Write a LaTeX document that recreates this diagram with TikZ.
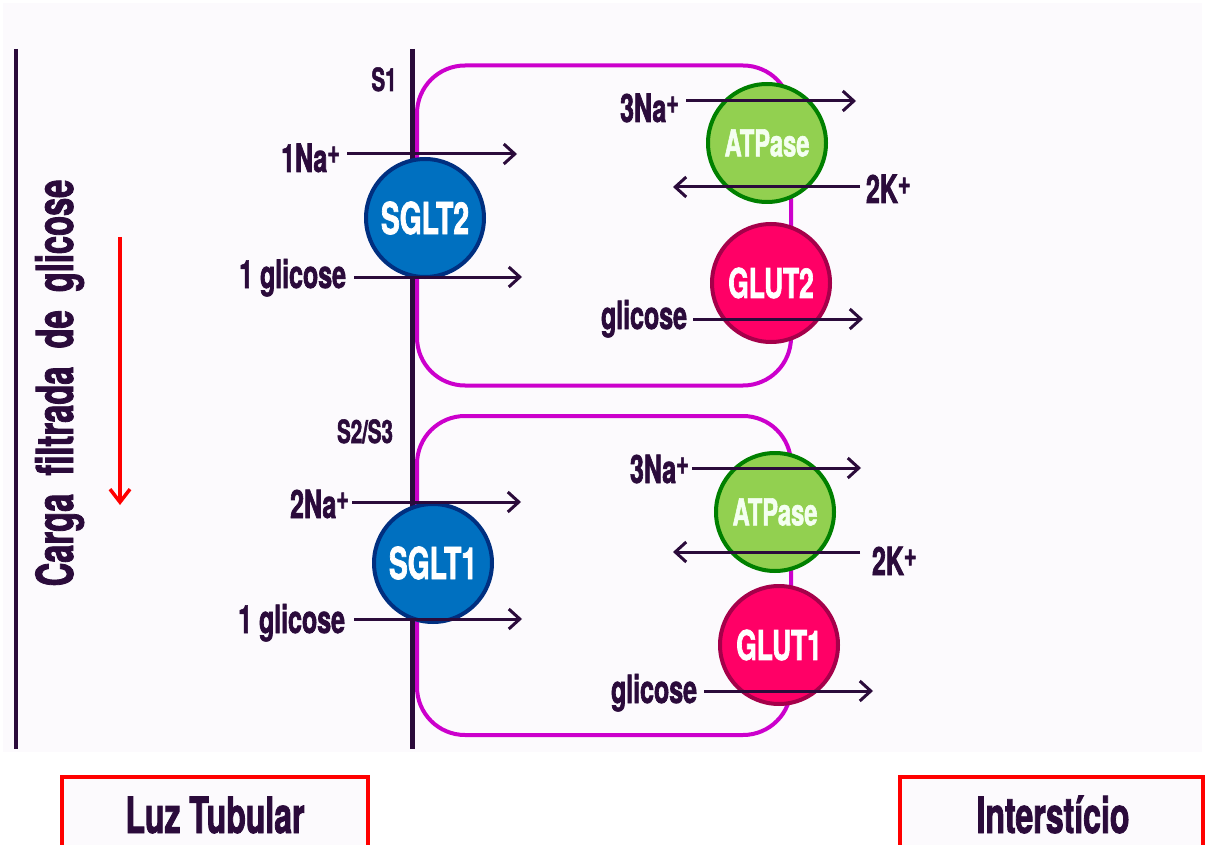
\documentclass[tikz,border=0pt]{standalone}
\usepackage{fontspec}
\setmainfont{TeX Gyre Heros}[FakeStretch=0.64,FakeBold=1.6]
\usetikzlibrary{arrows.meta}
\definecolor{ink}{HTML}{2B0B3B}
\definecolor{bgc}{HTML}{FCFAFD}
\definecolor{cellc}{HTML}{CC00CC}
\definecolor{sgltfill}{HTML}{0070C0}
\definecolor{sgltdraw}{HTML}{002F80}
\definecolor{atpfill}{HTML}{92D050}
\definecolor{atpdraw}{HTML}{008000}
\definecolor{atptext}{HTML}{F4FFF0}
\definecolor{glutfill}{HTML}{FF0066}
\definecolor{glutdraw}{HTML}{A5004A}
\definecolor{redc}{HTML}{FF0000}
\newcommand{\fsz}[1]{\fontsize{#1}{#1}\selectfont}
\newcommand{\plusup}{\raisebox{9pt}{\fsz{34}+}}
\begin{document}
\begin{tikzpicture}[x=1pt,y=-1pt,
  every node/.style={inner sep=0pt,outer sep=0pt,text=ink,font=\bfseries},
  lbl/.style={font=\bfseries\fsz{39}},
  seglbl/.style={font=\bfseries\fsz{32}},
  boxlbl/.style={font=\bfseries\fsz{50}},
  arr/.style={draw=ink,line width=3pt,-{Straight Barb[length=11pt,width=20pt,line width=3pt]}},
  cellline/.style={draw=cellc,line width=4pt,rounded corners=48pt},
  pump/.style={circle,line width=4pt,minimum size=118pt,text=white},
  sglt/.style={pump,fill=sgltfill,draw=sgltdraw,font=\bfseries\fsz{44}},
  atp/.style={pump,fill=atpfill,draw=atpdraw,text=atptext,font=\bfseries\fsz{37}},
  glut/.style={pump,fill=glutfill,draw=glutdraw,font=\bfseries\fsz{41}},
  redbox/.style={draw=redc,line width=3.5pt,fill=bgc}
]
\useasboundingbox (0,0) rectangle (1205,845);
\clip (0,0) rectangle (1205,845);
\fill[white] (0,0) rectangle (1205,845);
\fill[bgc] (3,3) rectangle (1202,752);

% vertical lines
\draw[ink,line width=4pt] (16,49) -- (16,749);
\draw[ink,line width=5pt] (412.5,49) -- (412.5,749);

% cells
\draw[cellline] (417,65.5) rectangle (791,385.5);
\draw[cellline] (417,416) rectangle (791,735);

% rotated label and red arrow
\node[rotate=90,anchor=base,font=\bfseries\fsz{51}] (carga) at (73,383) {Carga\ \ filtrada\ \ de\ \ glicose};
\coordinate (r1) at (120,237);
\coordinate (r2) at (120,505);
\draw[draw=redc,line width=3.5pt,-{Straight Barb[length=13pt,width=20pt,line width=3.5pt]}] (r1) -- (r2);

% segment labels
\node[seglbl,anchor=base] (s1) at (384,91) {S1};
\node[seglbl,anchor=base] (s23) at (365,443) {S2/S3};

% transporters
\node[sglt] (sglt2) at (425,218) {SGLT2};
\node[sglt] (sglt1) at (433,563) {SGLT1};
\node[atp] (atp1) at (767,143) {ATPase};
\node[glut] (glut2) at (771,283) {GLUT2};
\node[atp] (atp2) at (775,512) {ATPase};
\node[glut] (glut1) at (779,645) {GLUT1};

% labels
\node[lbl,anchor=base east] (na1) at (340,172) {1Na\plusup};
\node[lbl,anchor=base east] (gl1) at (346,288) {1 glicose};
\node[lbl,anchor=base east] (na3a) at (679,122) {3Na\plusup};
\node[lbl,anchor=base west] (k2a) at (866,203) {2K\plusup};
\node[lbl,anchor=base east] (gla) at (687,329) {glicose};
\node[lbl,anchor=base east] (na2) at (349,518) {2Na\plusup};
\node[lbl,anchor=base east] (gl2) at (345,633) {1 glicose};
\node[lbl,anchor=base west] (na3b) at (630,483) {3Na\plusup};
\node[lbl,anchor=base west] (k2b) at (872,575) {2K\plusup};
\node[lbl,anchor=base east] (glb) at (697,703) {glicose};

% arrow end points
\coordinate (a1s) at (347,154);  \coordinate (a1e) at (517,154);
\coordinate (a2s) at (354,277);  \coordinate (a2e) at (522,277);
\coordinate (a3s) at (686,101);  \coordinate (a3e) at (856,101);
\coordinate (a4s) at (860,187);  \coordinate (a4e) at (673,187);
\coordinate (a5s) at (693,319);  \coordinate (a5e) at (863,319);
\coordinate (a6s) at (352,502);  \coordinate (a6e) at (521,502);
\coordinate (a7s) at (354,619);  \coordinate (a7e) at (522,619);
\coordinate (a8s) at (692,468);  \coordinate (a8e) at (861,468);
\coordinate (a9s) at (860,552);  \coordinate (a9e) at (673,552);
\coordinate (a10s) at (704,691); \coordinate (a10e) at (873,691);
\foreach \i in {1,...,10} {\draw[arr] (a\i s) -- (a\i e);}

% bottom boxes
\draw[redbox] (62,777) rectangle (368,880);
\draw[redbox] (900,777) rectangle (1203,880);
\node[boxlbl,anchor=base] (luz) at (215,833) {Luz Tubular};
\node[boxlbl,anchor=base] (inter) at (1053,833) {Interstício};
\end{tikzpicture}
\end{document}
